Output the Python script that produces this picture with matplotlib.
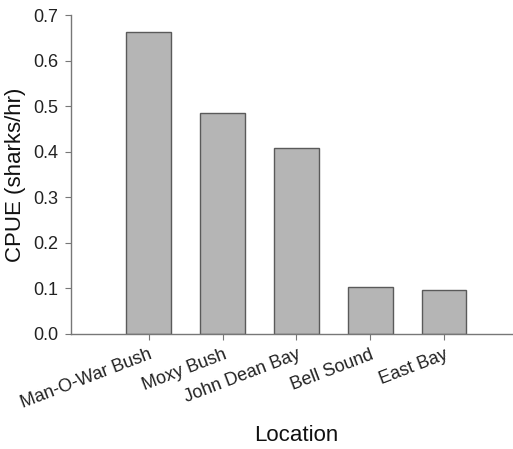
import matplotlib.pyplot as plt

plt.rcParams['font.family'] = ['Liberation Sans', 'DejaVu Sans']

# CPUE por localidad
locations = ["Man-O-War Bush", "Moxy Bush", "John Dean Bay", "Bell Sound", "East Bay"]
cpue = [0.663, 0.484, 0.409, 0.103, 0.097]
yticks = [0.0, 0.1, 0.2, 0.3, 0.4, 0.5, 0.6, 0.7]
ytick_labels = ["0.0", "0.1", "0.2", "0.3", "0.4", "0.5", "0.6", "0.7"]

fig = plt.figure(figsize=(5.13, 4.49), dpi=100)
ax = fig.add_axes([71 / 513, 115 / 449, 1 - 71 / 513, 319 / 449])

pos = list(range(1, len(locations) + 1))
ax.bar(pos, cpue, width=0.6, color='#b5b5b5', edgecolor='#5a5a5a', linewidth=1.0)

ax.set_xlim(-0.05, 5.93)
ax.set_ylim(0, 0.7)
ax.set_yticks(yticks)
ax.set_yticklabels(ytick_labels, fontsize=13, color='#222222')
ax.set_xticks(pos)
ax.set_xticklabels(locations, fontsize=13, rotation=21, ha='right',
                   rotation_mode='anchor', color='#222222')

for side in ['top', 'right']:
    ax.spines[side].set_visible(False)
for side in ['left', 'bottom']:
    ax.spines[side].set_color('#777777')
    ax.spines[side].set_linewidth(1.0)
ax.tick_params(axis='both', direction='out', length=4, width=0.8, color='#777777')
ax.tick_params(axis='y', pad=5)
ax.tick_params(axis='x', pad=5)

ax.set_ylabel('CPUE (sharks/hr)', fontsize=16, color='#111111')
ax.yaxis.set_label_coords(-0.101, 0.5)
ax.set_xlabel('Location', fontsize=16, color='#111111')
ax.xaxis.set_label_coords(0.509, -0.285)

fig.savefig('out.png', dpi=100)
